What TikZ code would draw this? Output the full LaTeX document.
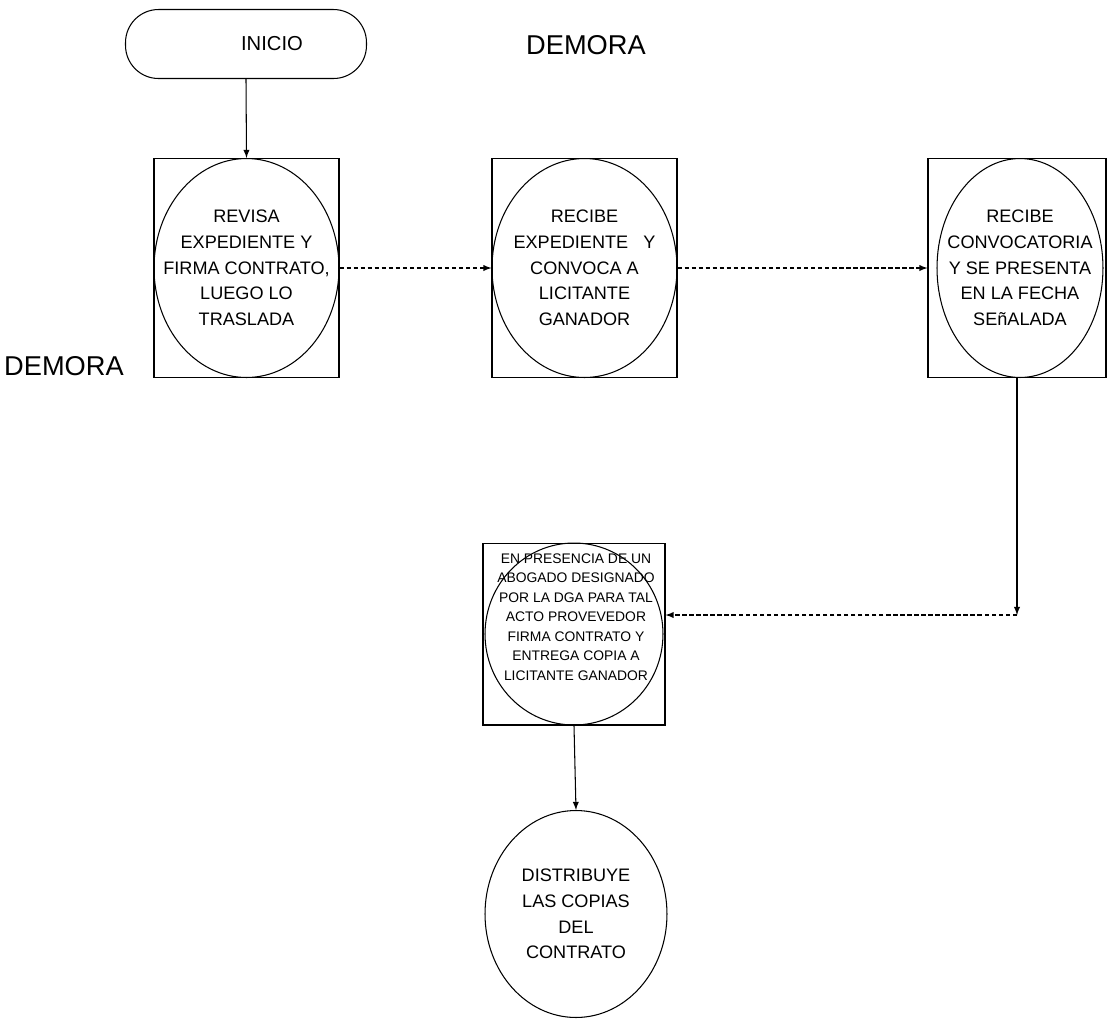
\documentclass[tikz,border=0pt]{standalone}
\usepackage{fontspec}
\setmainfont{Liberation Sans}
\usetikzlibrary{arrows,shapes.geometric}

\tikzset{
  marco/.style={draw, rectangle, inner sep=0pt, line width=0.6pt, minimum width=3.7cm, minimum height=4.38cm},
  globo/.style={draw, ellipse, inner sep=0pt, line width=0.6pt, minimum width=3.7cm, minimum height=4.38cm},
  texto/.style={align=center, inner sep=0pt, font=\fontsize{10.3}{14.6}\selectfont},
  flecha/.style={->, line width=0.6pt},
  punteada/.style={->, line width=0.6pt, dash pattern=on 2.5pt off 1.5pt},
  demora/.style={font=\fontsize{15.5}{18}\selectfont}
}

\begin{document}
\begin{tikzpicture}[>=latex, x=0.02cm, y=-0.02cm]
\useasboundingbox (0,0) rectangle (1107,1019);
%		\draw [help lines, step=50] (0,0) grid (1107,1019);
		\node [draw, line width=0.6pt, rounded corners=0.66cm, minimum width=4.82cm, minimum height=1.38cm] (inicio) at (246,44) {};
		\node [texto, font=\fontsize{11.5}{14}\selectfont] (t0) at (272,44) {INICIO};
		\node [demora] (demora1) at (586,45) {DEMORA};
		\node [demora] (demora2) at (64,366) {DEMORA};

		\node [marco] (m1) at (246.5,268) {};
		\node [globo] (p1) at (m1) {};
		\node [texto] (t1) at (m1) {REVISA\\EXPEDIENTE Y\\FIRMA CONTRATO,\\LUEGO LO\\TRASLADA};
		\node [marco] (m2) at (584.5,268) {};
		\node [globo] (p2) at (m2) {};
		\node [texto] (t2) at (m2) {RECIBE\\EXPEDIENTE\ \ \ Y\\CONVOCA A\\LICITANTE\\GANADOR};
		\node [marco, minimum width=3.56cm] (m3) at (1017,268) {};
		\node [globo, minimum width=3.32cm] (p3) at (1020,268) {};
		\node [texto] (t3) at (p3) {RECIBE\\CONVOCATORIA\\Y SE PRESENTA\\EN LA FECHA\\SEñALADA};

		\node [marco, minimum width=3.64cm, minimum height=3.64cm] (m4) at (574,634) {};
		\node [globo, minimum width=3.56cm, minimum height=3.64cm] (p4) at (m4) {};
		\node [texto, font=\fontsize{7.9}{11.1}\selectfont] (t4) at (576,617) {EN PRESENCIA DE UN\\ABOGADO DESIGNADO\\POR LA DGA PARA TAL\\ACTO PROVEVEDOR\\FIRMA CONTRATO Y\\ENTREGA COPIA A\\LICITANTE GANADOR};

		\node [globo, minimum width=3.64cm, minimum height=4.14cm] (p5) at (576,914) {};
		\node [texto] (t5) at (p5) {DISTRIBUYE\\LAS COPIAS\\DEL\\CONTRATO};

		\coordinate (codo) at (1017,615);
		\draw [flecha] (inicio.south) -- (m1.north);
		\draw [punteada] (m1.east) -- (m2.west);
		\draw [punteada] (m2.east) -- (m3.west);
		\draw [flecha] (m3.south) -- (codo);
		\draw [punteada] (codo) -- (codo -| m4.east);
		\draw [flecha] (m4.south) -- (p5.north);
\end{tikzpicture}
\end{document}
